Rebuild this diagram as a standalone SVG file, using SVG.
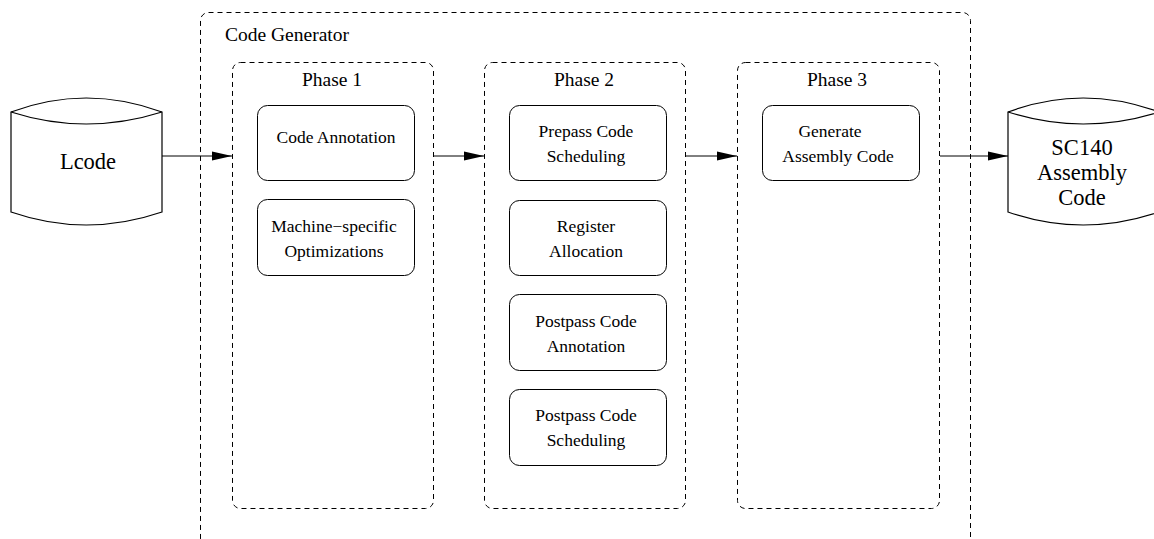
<svg xmlns="http://www.w3.org/2000/svg" width="1154" height="539" viewBox="0 0 1154 539" font-family="'Liberation Serif', 'Times New Roman', serif">
<style>
  text { font-family: 'Liberation Serif', 'Times New Roman', serif; fill: #000; text-anchor: middle; }
  .group { fill: none; stroke: #000; stroke-width: 1; stroke-dasharray: 5 4; }
  .step { fill: #fff; stroke: #000; stroke-width: 1; }
  .store { fill: #fff; stroke: #000; stroke-width: 1.2; }
  .lbl { font-size: 17.5px; }
  .phase { font-size: 19.5px; }
  .big { font-size: 22.5px; }
  .edge { stroke: #000; stroke-width: 1; fill: none; marker-end: url(#arrow); }
</style>
<defs>
  <marker id="arrow" markerWidth="20" markerHeight="10" refX="20" refY="5" orient="auto" markerUnits="userSpaceOnUse">
    <path d="M0,0.5 L20,5 L0,9.5 Z" fill="#000"/>
  </marker>
</defs>
<rect width="1154" height="539" fill="#fff"/>

<!-- code generator frame -->
<g id="code-generator">
  <rect class="group" x="200.5" y="12.5" width="770" height="560" rx="8"/>
  <text x="225" y="41" class="phase" style="text-anchor:start">Code Generator</text>
</g>

<!-- phases -->
<g id="phase1">
  <rect class="group" x="232.5" y="62.5" width="201" height="446" rx="8"/>
  <text x="332" y="86" class="phase">Phase 1</text>
</g>
<g id="phase2">
  <rect class="group" x="484.5" y="62.5" width="201" height="446" rx="8"/>
  <text x="584" y="86" class="phase">Phase 2</text>
</g>
<g id="phase3">
  <rect class="group" x="737.5" y="62.5" width="202" height="446" rx="8"/>
  <text x="837" y="86" class="phase">Phase 3</text>
</g>

<!-- phase 1 steps -->
<g id="code-annotation">
  <rect class="step" x="257.5" y="105.5" width="157" height="75" rx="10"/>
  <text x="336" y="143" class="lbl">Code Annotation</text>
</g>
<g id="machine-opt">
  <rect class="step" x="257.5" y="199.5" width="157" height="76" rx="10"/>
  <text x="334" y="232" class="lbl">Machine−specific</text>
  <text x="334" y="257" class="lbl">Optimizations</text>
</g>

<!-- phase 2 steps -->
<g id="prepass-sched">
  <rect class="step" x="509.5" y="105.5" width="157" height="75" rx="10"/>
  <text x="586" y="137" class="lbl">Prepass Code</text>
  <text x="586" y="162" class="lbl">Scheduling</text>
</g>
<g id="register-alloc">
  <rect class="step" x="509.5" y="200.5" width="157" height="75" rx="10"/>
  <text x="586" y="232" class="lbl">Register</text>
  <text x="586" y="257" class="lbl">Allocation</text>
</g>
<g id="postpass-annot">
  <rect class="step" x="509.5" y="294.5" width="157" height="76" rx="10"/>
  <text x="586" y="327" class="lbl">Postpass Code</text>
  <text x="586" y="352" class="lbl">Annotation</text>
</g>
<g id="postpass-sched">
  <rect class="step" x="509.5" y="389.5" width="157" height="76" rx="10"/>
  <text x="586" y="421" class="lbl">Postpass Code</text>
  <text x="586" y="446" class="lbl">Scheduling</text>
</g>

<!-- phase 3 step -->
<g id="gen-asm">
  <rect class="step" x="762.5" y="105.5" width="157" height="75" rx="10"/>
  <text x="830" y="137" class="lbl">Generate</text>
  <text x="838" y="162" class="lbl">Assembly Code</text>
</g>

<!-- input / output stores -->
<g id="lcode">
  <path class="store" d="M11,112 Q86,84 162,112 L162,212 Q86,238 11,212 Z"/>
  <path class="store" d="M11,112 Q86,136 162,112" fill="none"/>
  <text x="88" y="169" class="big">Lcode</text>
</g>
<g id="sc140">
  <path class="store" d="M1008,112 Q1083,84 1159,112 L1159,212 Q1083,238 1008,212 Z"/>
  <path class="store" d="M1008,112 Q1083,136 1159,112" fill="none"/>
  <text x="1082" y="155" class="big">SC140</text>
  <text x="1082" y="180" class="big">Assembly</text>
  <text x="1082" y="205" class="big">Code</text>
</g>

<!-- connectors -->
<g id="connectors">
  <line class="edge" x1="162" y1="156" x2="232" y2="156"/>
  <line class="edge" x1="433" y1="156" x2="484" y2="156"/>
  <line class="edge" x1="686" y1="156" x2="737" y2="156"/>
  <line class="edge" x1="940" y1="156" x2="1008" y2="156"/>
</g>
</svg>
